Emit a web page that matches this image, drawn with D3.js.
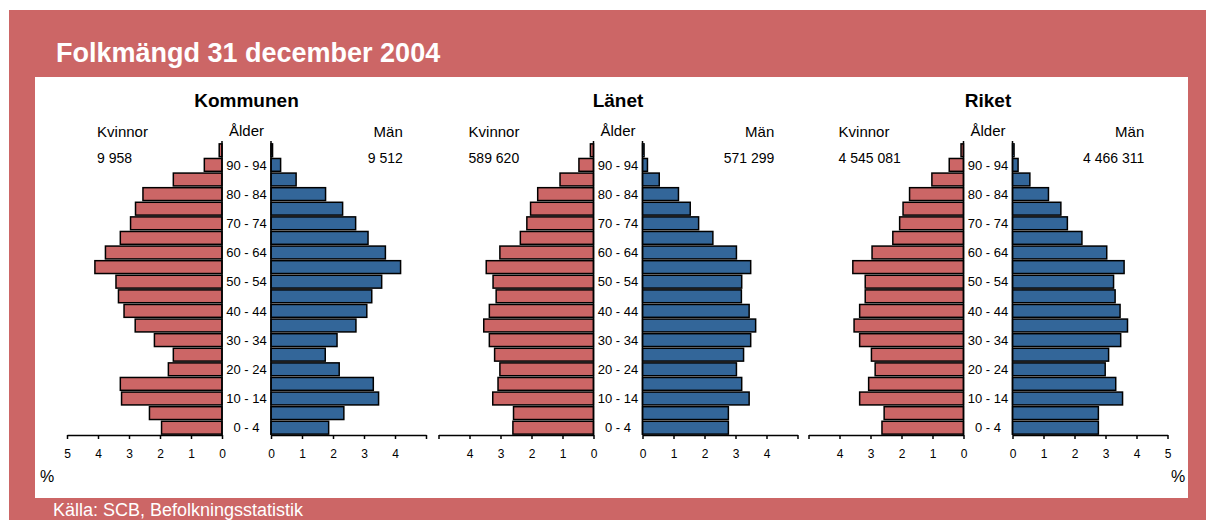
<!DOCTYPE html>
<html lang="sv">
<head>
<meta charset="UTF-8" />
<title>Folkmängd 31 december 2004</title>
<script src="https://d3js.org/d3.v7.min.js"></script>
<style>
  html, body { margin: 0; padding: 0; background: #fff; }
  svg { display: block; font-family: "Liberation Sans", Arial, sans-serif; }
  .axis path, .axis line { stroke: #000; stroke-width: 1.5; }
  .axis text { font-size: 12px; fill: #000; }
</style>
</head>
<body>
<svg id="chart" width="1206" height="520"></svg>
<script>
// age groups, bottom to top
const ages = ["0 - 4", "5 - 9", "10 - 14", "15 - 19", "20 - 24", "25 - 29", "30 - 34",
  "35 - 39", "40 - 44", "45 - 49", "50 - 54", "55 - 59", "60 - 64", "65 - 69",
  "70 - 74", "75 - 79", "80 - 84", "85 - 89", "90 - 94", "95+"];

// share of population in %, per age group
const kommunenKvinnor = [1.95, 2.34, 3.24, 3.28, 1.73, 1.57, 2.18, 2.80, 3.16, 3.34, 3.42, 4.10, 3.76, 3.28, 2.95, 2.79, 2.55, 1.57, 0.57, 0.09];
const kommunenMan = [1.86, 2.35, 3.47, 3.30, 2.20, 1.75, 2.13, 2.74, 3.09, 3.25, 3.57, 4.18, 3.69, 3.13, 2.73, 2.31, 1.76, 0.81, 0.31, 0.05];
const lanetKvinnor = [2.60, 2.58, 3.25, 3.08, 3.02, 3.19, 3.36, 3.54, 3.36, 3.14, 3.24, 3.46, 3.02, 2.36, 2.15, 2.03, 1.80, 1.08, 0.47, 0.10];
const lanetMan = [2.77, 2.77, 3.44, 3.20, 3.03, 3.26, 3.49, 3.65, 3.44, 3.19, 3.20, 3.49, 3.03, 2.27, 1.81, 1.54, 1.16, 0.54, 0.16, 0.05];
const riketKvinnor = [2.63, 2.56, 3.35, 3.06, 2.85, 2.97, 3.35, 3.53, 3.35, 3.17, 3.17, 3.57, 2.95, 2.28, 2.06, 1.95, 1.74, 1.02, 0.46, 0.08];
const riketMan = [2.77, 2.77, 3.55, 3.33, 2.99, 3.10, 3.49, 3.71, 3.47, 3.31, 3.26, 3.60, 3.04, 2.24, 1.77, 1.56, 1.16, 0.56, 0.18, 0.05];

const regions = ["Kommunen", "Länet", "Riket"];
const totalKvinnor = ["9 958", "589 620", "4 545 081"];
const totalMan = ["9 512", "571 299", "4 466 311"];
const tickValues = [0, 1, 2, 3, 4, 5];

const red = "#cc6666", blue = "#336699";

const svg = d3.select("#chart");

// frame
svg.append("rect").attr("x", 9).attr("y", 10).attr("width", 1197).attr("height", 510).attr("fill", red);
svg.append("rect").attr("x", 35).attr("y", 77).attr("width", 1153).attr("height", 421).attr("fill", "#fff");

svg.append("text").attr("x", 56).attr("y", 62)
  .attr("fill", "#fff").attr("font-size", 27).attr("font-weight", "bold")
  .text("Folkmängd 31 december 2004");
svg.append("text").attr("x", 53).attr("y", 516)
  .attr("fill", "#fff").attr("font-size", 18)
  .text("Källa: SCB, Befolkningsstatistik");

const y = d3.scaleBand().domain(ages.slice().reverse()).range([143, 435]).paddingInner(0.12).paddingOuter(0.06);

const pyramids = [
  { name: regions[0], cx: 246.5, kv: kommunenKvinnor, man: kommunenMan, fiveLeft: true, fiveRight: false },
  { name: regions[1], cx: 618, kv: lanetKvinnor, man: lanetMan, fiveLeft: false, fiveRight: false },
  { name: regions[2], cx: 988, kv: riketKvinnor, man: riketMan, fiveLeft: false, fiveRight: true }
];

const halfGap = 24.5, span = 155;

pyramids.forEach((p, i) => {
  const xL = d3.scaleLinear().domain([0, 5]).range([p.cx - halfGap, p.cx - halfGap - span]);
  const xR = d3.scaleLinear().domain([0, 5]).range([p.cx + halfGap, p.cx + halfGap + span]);
  const g = svg.append("g");

  g.append("text").attr("x", p.cx).attr("y", 107).attr("text-anchor", "middle")
    .attr("font-size", 19).attr("font-weight", "bold").text(p.name);
  g.append("text").attr("x", xL(4.03)).attr("y", 137).attr("font-size", 15).text("Kvinnor");
  g.append("text").attr("x", xL(4.03)).attr("y", 163).attr("font-size", 14).text(totalKvinnor[i]);
  g.append("text").attr("x", p.cx).attr("y", 136).attr("text-anchor", "middle").attr("font-size", 15).text("Ålder");
  g.append("text").attr("x", xR(4.25)).attr("y", 137).attr("text-anchor", "end").attr("font-size", 15).text("Män");
  g.append("text").attr("x", xR(4.25)).attr("y", 163).attr("text-anchor", "end").attr("font-size", 14).text(totalMan[i]);

  g.selectAll(".kv").data(p.kv).enter().append("rect")
    .attr("x", d => xL(d)).attr("y", (d, j) => y(ages[j]))
    .attr("width", d => xL(0) - xL(d)).attr("height", y.bandwidth())
    .attr("fill", red).attr("stroke", "#000").attr("stroke-width", 1.5);
  g.selectAll(".man").data(p.man).enter().append("rect")
    .attr("x", xR(0)).attr("y", (d, j) => y(ages[j]))
    .attr("width", d => xR(d) - xR(0)).attr("height", y.bandwidth())
    .attr("fill", blue).attr("stroke", "#000").attr("stroke-width", 1.5);

  // zero lines
  [xL(0), xR(0)].forEach(x => {
    g.append("line").attr("x1", x).attr("x2", x).attr("y1", 141).attr("y2", 435)
      .attr("stroke", "#000").attr("stroke-width", 1.5);
  });

  // age labels
  g.selectAll(".age").data(ages.filter((a, j) => j % 2 === 0)).enter().append("text")
    .attr("x", p.cx).attr("y", a => y(a) + y.bandwidth() / 2).attr("dy", "0.36em")
    .attr("text-anchor", "middle").attr("font-size", 13).text(a => a);

  g.append("g").attr("class", "axis").attr("transform", "translate(0,435)")
    .call(d3.axisBottom(xL).tickValues(tickValues).tickSize(4).tickSizeOuter(0).tickPadding(10)
      .tickFormat(d => (d === 5 && !p.fiveLeft) ? "" : d));
  g.append("g").attr("class", "axis").attr("transform", "translate(0,435)")
    .call(d3.axisBottom(xR).tickValues(tickValues).tickSize(4).tickSizeOuter(0).tickPadding(10)
      .tickFormat(d => (d === 5 && !p.fiveRight) ? "" : d));
});

svg.append("text").attr("x", 40).attr("y", 482).attr("font-size", 16).text("%");
svg.append("text").attr("x", 1171).attr("y", 482).attr("font-size", 16).text("%");
</script>
</body>
</html>
